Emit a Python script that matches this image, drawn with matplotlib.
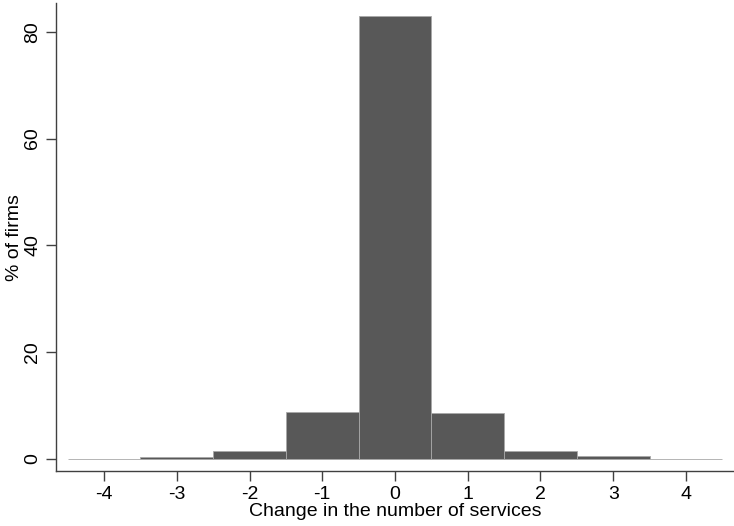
import matplotlib
matplotlib.use("Agg")
import matplotlib.pyplot as plt

plt.rcParams['font.family'] = ['Liberation Sans', 'DejaVu Sans']

changes = [-4, -3, -2, -1, 0, 1, 2, 3, 4]
pct_firms = [0.03, 0.26, 1.44, 8.7, 83.0, 8.5, 1.5, 0.45, 0.03]
xticks = [-4, -3, -2, -1, 0, 1, 2, 3, 4]
yticks = [0, 20, 40, 60, 80]

fig = plt.figure(figsize=(7.34, 5.26), dpi=100)
ax = fig.add_axes([56/734, 54.7/526, 1 - 56/734, (471.3 - 3)/526])

ax.bar(changes, pct_firms, width=1.0, color='#585858', edgecolor='#a8a8a8', linewidth=0.6)

ax.set_xlim(-4.66, 4.66)
ax.set_ylim(-2.36, 85.4)
ax.set_xticks(xticks)
ax.set_xticklabels([str(v) for v in xticks])
ax.set_yticks(yticks)
ax.set_yticklabels([str(v) for v in yticks], rotation=90, va='center')

for s in ['top', 'right']:
    ax.spines[s].set_visible(False)
for s in ['left', 'bottom']:
    ax.spines[s].set_color('#404040')
    ax.spines[s].set_linewidth(1.0)

ax.tick_params(axis='both', direction='out', length=7.5, width=1.0, color='#404040', labelsize=14, pad=3)
ax.set_xlabel('Change in the number of services', fontsize=14, labelpad=0)
ax.set_ylabel('% of firms', fontsize=14, labelpad=1)

fig.savefig('out.png', dpi=100)
